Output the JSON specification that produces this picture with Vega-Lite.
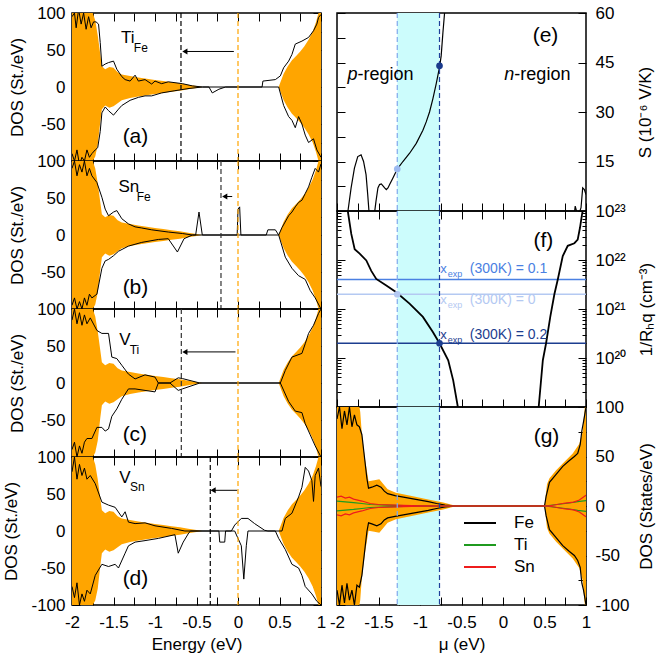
{
"$schema":"https://vega.github.io/schema/vega-lite/v6.json",
"background":"white",
"padding":{"left":2,"top":3,"right":5,"bottom":5},
"config":{
 "view":{"stroke":"black","strokeWidth":1.5},
 "axis":{"grid":false,"domain":false,"tickColor":"black","tickWidth":1,"labelFont":"Liberation Sans","labelFontSize":17,"labelColor":"black","labelFlush":false,"labelOverlap":false,"titleFont":"Liberation Sans","titleFontSize":17,"titleFontWeight":"normal","titleColor":"black","zindex":1},
 "text":{"font":"Liberation Sans","color":"black"}
},
"datasets":{
 "host":[{"e":-2,"u":112,"d":-112},{"e":-1.9,"u":104,"d":-108},{"e":-1.8,"u":110,"d":-104},{"e":-1.75,"u":100,"d":-100},{"e":-1.72,"u":90,"d":-94},{"e":-1.69,"u":70,"d":-78},{"e":-1.66,"u":45,"d":-48},{"e":-1.64,"u":28,"d":-30},{"e":-1.6,"u":24,"d":-25},{"e":-1.55,"u":27,"d":-28},{"e":-1.5,"u":26,"d":-26},{"e":-1.45,"u":20,"d":-22},{"e":-1.4,"u":17,"d":-18},{"e":-1.3,"u":15,"d":-15},{"e":-1.2,"u":13,"d":-13},{"e":-1.1,"u":11,"d":-11},{"e":-1,"u":9.5,"d":-9.5},{"e":-0.9,"u":8,"d":-8},{"e":-0.8,"u":6.5,"d":-6.5},{"e":-0.7,"u":5,"d":-5},{"e":-0.6,"u":3,"d":-3},{"e":-0.5,"u":1.5,"d":-1.5},{"e":-0.43,"u":0,"d":0},{"e":0.49,"u":0,"d":0},{"e":0.51,"u":6,"d":-6},{"e":0.55,"u":18,"d":-18},{"e":0.6,"u":28,"d":-28},{"e":0.65,"u":36,"d":-36},{"e":0.7,"u":42,"d":-42},{"e":0.75,"u":48,"d":-48},{"e":0.8,"u":55,"d":-55},{"e":0.85,"u":64,"d":-64},{"e":0.9,"u":75,"d":-75},{"e":0.94,"u":88,"d":-88},{"e":0.97,"u":100,"d":-100},{"e":1,"u":112,"d":-112}],
 "da":[{"s":"u","e":-2,"v":95},{"s":"u","e":-1.97,"v":100},{"s":"u","e":-1.95,"v":80},{"s":"u","e":-1.92,"v":105},{"s":"u","e":-1.89,"v":85},{"s":"u","e":-1.86,"v":100},{"s":"u","e":-1.83,"v":78},{"s":"u","e":-1.8,"v":95},{"s":"u","e":-1.77,"v":80},{"s":"u","e":-1.74,"v":88},{"s":"u","e":-1.71,"v":88},{"s":"u","e":-1.68,"v":85},{"s":"u","e":-1.66,"v":60},{"s":"u","e":-1.64,"v":28},{"s":"u","e":-1.6,"v":31},{"s":"u","e":-1.56,"v":33},{"s":"u","e":-1.5,"v":35},{"s":"u","e":-1.46,"v":24},{"s":"u","e":-1.4,"v":14},{"s":"u","e":-1.36,"v":10},{"s":"u","e":-1.3,"v":8},{"s":"u","e":-1.24,"v":16},{"s":"u","e":-1.2,"v":8},{"s":"u","e":-1.12,"v":10},{"s":"u","e":-1.04,"v":4},{"s":"u","e":-1,"v":8},{"s":"u","e":-0.92,"v":4.5},{"s":"u","e":-0.84,"v":7},{"s":"u","e":-0.67,"v":4.5},{"s":"u","e":-0.55,"v":1.5},{"s":"u","e":-0.43,"v":0},{"s":"u","e":0.29,"v":0},{"s":"u","e":0.3,"v":8},{"s":"u","e":0.45,"v":10},{"s":"u","e":0.51,"v":15},{"s":"u","e":0.55,"v":26},{"s":"u","e":0.61,"v":35},{"s":"u","e":0.65,"v":44},{"s":"u","e":0.69,"v":58},{"s":"u","e":0.77,"v":62},{"s":"u","e":0.85,"v":67},{"s":"u","e":0.91,"v":76},{"s":"u","e":0.95,"v":85},{"s":"u","e":0.97,"v":94},{"s":"u","e":1,"v":98},
  {"s":"d","e":-2,"v":-90},{"s":"d","e":-1.97,"v":-100},{"s":"d","e":-1.94,"v":-85},{"s":"d","e":-1.91,"v":-105},{"s":"d","e":-1.88,"v":-95},{"s":"d","e":-1.85,"v":-100},{"s":"d","e":-1.82,"v":-85},{"s":"d","e":-1.79,"v":-95},{"s":"d","e":-1.76,"v":-90},{"s":"d","e":-1.72,"v":-85},{"s":"d","e":-1.69,"v":-82},{"s":"d","e":-1.66,"v":-60},{"s":"d","e":-1.64,"v":-35},{"s":"d","e":-1.6,"v":-27},{"s":"d","e":-1.56,"v":-32},{"s":"d","e":-1.5,"v":-38},{"s":"d","e":-1.44,"v":-30},{"s":"d","e":-1.4,"v":-25},{"s":"d","e":-1.3,"v":-18},{"s":"d","e":-1.2,"v":-14},{"s":"d","e":-1.12,"v":-12},{"s":"d","e":-1.04,"v":-12},{"s":"d","e":-0.92,"v":-8},{"s":"d","e":-0.76,"v":-5},{"s":"d","e":-0.59,"v":-2},{"s":"d","e":-0.43,"v":0},{"s":"d","e":-0.35,"v":0},{"s":"d","e":-0.31,"v":-8},{"s":"d","e":-0.23,"v":-3},{"s":"d","e":-0.15,"v":0},{"s":"d","e":0.49,"v":0},{"s":"d","e":0.55,"v":-25},{"s":"d","e":0.61,"v":-40},{"s":"d","e":0.65,"v":-45},{"s":"d","e":0.69,"v":-55},{"s":"d","e":0.73,"v":-40},{"s":"d","e":0.77,"v":-50},{"s":"d","e":0.81,"v":-65},{"s":"d","e":0.85,"v":-75},{"s":"d","e":0.91,"v":-70},{"s":"d","e":0.95,"v":-85},{"s":"d","e":1,"v":-95}],
 "db":[{"s":"u","e":-2,"v":90},{"s":"u","e":-1.97,"v":100},{"s":"u","e":-1.94,"v":80},{"s":"u","e":-1.91,"v":95},{"s":"u","e":-1.88,"v":85},{"s":"u","e":-1.85,"v":100},{"s":"u","e":-1.82,"v":80},{"s":"u","e":-1.79,"v":90},{"s":"u","e":-1.76,"v":80},{"s":"u","e":-1.7,"v":71},{"s":"u","e":-1.64,"v":51},{"s":"u","e":-1.6,"v":35},{"s":"u","e":-1.56,"v":26},{"s":"u","e":-1.5,"v":31},{"s":"u","e":-1.46,"v":33},{"s":"u","e":-1.4,"v":22},{"s":"u","e":-1.32,"v":15},{"s":"u","e":-1.24,"v":11},{"s":"u","e":-1.16,"v":9.5},{"s":"u","e":-1.04,"v":7},{"s":"u","e":-0.84,"v":4},{"s":"u","e":-0.67,"v":2},{"s":"u","e":-0.55,"v":0},{"s":"u","e":-0.51,"v":0},{"s":"u","e":-0.47,"v":31},{"s":"u","e":-0.43,"v":0},{"s":"u","e":-0.01,"v":0},{"s":"u","e":0,"v":35},{"s":"u","e":0.02,"v":38},{"s":"u","e":0.035,"v":0},{"s":"u","e":0.34,"v":0},{"s":"u","e":0.36,"v":7},{"s":"u","e":0.45,"v":7},{"s":"u","e":0.49,"v":0},{"s":"u","e":0.53,"v":10},{"s":"u","e":0.61,"v":26},{"s":"u","e":0.65,"v":31},{"s":"u","e":0.69,"v":38},{"s":"u","e":0.73,"v":44},{"s":"u","e":0.77,"v":47},{"s":"u","e":0.81,"v":56},{"s":"u","e":0.85,"v":65},{"s":"u","e":0.89,"v":78},{"s":"u","e":0.93,"v":90},{"s":"u","e":0.97,"v":85},{"s":"u","e":1,"v":96},
  {"s":"d","e":-2,"v":-95},{"s":"d","e":-1.97,"v":-85},{"s":"d","e":-1.94,"v":-100},{"s":"d","e":-1.91,"v":-90},{"s":"d","e":-1.88,"v":-100},{"s":"d","e":-1.85,"v":-85},{"s":"d","e":-1.82,"v":-95},{"s":"d","e":-1.79,"v":-80},{"s":"d","e":-1.76,"v":-85},{"s":"d","e":-1.7,"v":-80},{"s":"d","e":-1.64,"v":-45},{"s":"d","e":-1.6,"v":-35},{"s":"d","e":-1.56,"v":-33},{"s":"d","e":-1.5,"v":-28},{"s":"d","e":-1.44,"v":-22},{"s":"d","e":-1.32,"v":-15},{"s":"d","e":-1.16,"v":-10},{"s":"d","e":-0.96,"v":-6},{"s":"d","e":-0.84,"v":-5},{"s":"d","e":-0.73,"v":-23},{"s":"d","e":-0.65,"v":-5},{"s":"d","e":-0.59,"v":-2},{"s":"d","e":-0.55,"v":0},{"s":"d","e":0.49,"v":0},{"s":"d","e":0.57,"v":-30},{"s":"d","e":0.65,"v":-45},{"s":"d","e":0.73,"v":-55},{"s":"d","e":0.81,"v":-60},{"s":"d","e":0.87,"v":-75},{"s":"d","e":0.93,"v":-85},{"s":"d","e":1,"v":-100}],
 "dc":[{"s":"u","e":-2,"v":85},{"s":"u","e":-1.97,"v":100},{"s":"u","e":-1.94,"v":80},{"s":"u","e":-1.91,"v":95},{"s":"u","e":-1.88,"v":78},{"s":"u","e":-1.85,"v":92},{"s":"u","e":-1.82,"v":80},{"s":"u","e":-1.78,"v":88},{"s":"u","e":-1.7,"v":71},{"s":"u","e":-1.64,"v":67},{"s":"u","e":-1.56,"v":67},{"s":"u","e":-1.52,"v":35},{"s":"u","e":-1.46,"v":33},{"s":"u","e":-1.4,"v":24},{"s":"u","e":-1.32,"v":12},{"s":"u","e":-1.24,"v":5.5},{"s":"u","e":-1.12,"v":11},{"s":"u","e":-1,"v":8},{"s":"u","e":-0.96,"v":0},{"s":"u","e":-0.82,"v":0},{"s":"u","e":-0.72,"v":7},{"s":"u","e":-0.67,"v":6},{"s":"u","e":-0.46,"v":0},{"s":"u","e":0.51,"v":0},{"s":"u","e":0.57,"v":17},{"s":"u","e":0.65,"v":35},{"s":"u","e":0.77,"v":40},{"s":"u","e":0.81,"v":53},{"s":"u","e":0.85,"v":67},{"s":"u","e":0.91,"v":78},{"s":"u","e":0.97,"v":94},{"s":"u","e":1,"v":100},
  {"s":"d","e":-2,"v":-90},{"s":"d","e":-1.97,"v":-80},{"s":"d","e":-1.94,"v":-100},{"s":"d","e":-1.91,"v":-85},{"s":"d","e":-1.88,"v":-95},{"s":"d","e":-1.85,"v":-80},{"s":"d","e":-1.82,"v":-75},{"s":"d","e":-1.76,"v":-75},{"s":"d","e":-1.7,"v":-60},{"s":"d","e":-1.64,"v":-60},{"s":"d","e":-1.6,"v":-65},{"s":"d","e":-1.56,"v":-62},{"s":"d","e":-1.52,"v":-45},{"s":"d","e":-1.46,"v":-35},{"s":"d","e":-1.4,"v":-22},{"s":"d","e":-1.32,"v":-8},{"s":"d","e":-1.24,"v":-8},{"s":"d","e":-1.12,"v":-10},{"s":"d","e":-1,"v":-12},{"s":"d","e":-0.96,"v":0},{"s":"d","e":-0.82,"v":0},{"s":"d","e":-0.72,"v":-10},{"s":"d","e":-0.67,"v":-8},{"s":"d","e":-0.46,"v":0},{"s":"d","e":0.51,"v":0},{"s":"d","e":0.61,"v":-25},{"s":"d","e":0.69,"v":-38},{"s":"d","e":0.77,"v":-40},{"s":"d","e":0.81,"v":-55},{"s":"d","e":0.87,"v":-70},{"s":"d","e":0.93,"v":-85},{"s":"d","e":1,"v":-100}],
 "dd":[{"s":"u","e":-2,"v":80},{"s":"u","e":-1.97,"v":100},{"s":"u","e":-1.94,"v":70},{"s":"u","e":-1.91,"v":90},{"s":"u","e":-1.88,"v":75},{"s":"u","e":-1.85,"v":85},{"s":"u","e":-1.82,"v":70},{"s":"u","e":-1.78,"v":75},{"s":"u","e":-1.72,"v":64},{"s":"u","e":-1.64,"v":39},{"s":"u","e":-1.56,"v":35},{"s":"u","e":-1.48,"v":32},{"s":"u","e":-1.4,"v":19},{"s":"u","e":-1.36,"v":26},{"s":"u","e":-1.32,"v":12},{"s":"u","e":-1.24,"v":10},{"s":"u","e":-1.12,"v":11},{"s":"u","e":-1,"v":7},{"s":"u","e":-0.8,"v":3.5},{"s":"u","e":-0.64,"v":0},{"s":"u","e":-0.08,"v":0},{"s":"u","e":-0.04,"v":8},{"s":"u","e":0.04,"v":17},{"s":"u","e":0.12,"v":17},{"s":"u","e":0.2,"v":10},{"s":"u","e":0.32,"v":1},{"s":"u","e":0.36,"v":0},{"s":"u","e":0.53,"v":0},{"s":"u","e":0.57,"v":17},{"s":"u","e":0.65,"v":24},{"s":"u","e":0.73,"v":46},{"s":"u","e":0.77,"v":59},{"s":"u","e":0.81,"v":86},{"s":"u","e":0.85,"v":81},{"s":"u","e":0.89,"v":68},{"s":"u","e":0.91,"v":40},{"s":"u","e":0.93,"v":75},{"s":"u","e":0.97,"v":85},{"s":"u","e":1,"v":60},
  {"s":"d","e":-2,"v":-75},{"s":"d","e":-1.97,"v":-90},{"s":"d","e":-1.94,"v":-70},{"s":"d","e":-1.91,"v":-100},{"s":"d","e":-1.88,"v":-85},{"s":"d","e":-1.85,"v":-95},{"s":"d","e":-1.82,"v":-80},{"s":"d","e":-1.78,"v":-85},{"s":"d","e":-1.72,"v":-60},{"s":"d","e":-1.64,"v":-45},{"s":"d","e":-1.56,"v":-48},{"s":"d","e":-1.48,"v":-45},{"s":"d","e":-1.44,"v":-50},{"s":"d","e":-1.36,"v":-30},{"s":"d","e":-1.32,"v":-20},{"s":"d","e":-1.24,"v":-15},{"s":"d","e":-1.12,"v":-13},{"s":"d","e":-0.96,"v":-10},{"s":"d","e":-0.76,"v":-5},{"s":"d","e":-0.72,"v":-30},{"s":"d","e":-0.66,"v":-15},{"s":"d","e":-0.59,"v":-2},{"s":"d","e":-0.57,"v":0},{"s":"d","e":-0.23,"v":0},{"s":"d","e":-0.22,"v":-15},{"s":"d","e":-0.16,"v":-15},{"s":"d","e":-0.15,"v":0},{"s":"d","e":-0.04,"v":0},{"s":"d","e":0.04,"v":-20},{"s":"d","e":0.07,"v":-65},{"s":"d","e":0.1,"v":-20},{"s":"d","e":0.12,"v":0},{"s":"d","e":0.45,"v":0},{"s":"d","e":0.49,"v":-10},{"s":"d","e":0.57,"v":-25},{"s":"d","e":0.65,"v":-45},{"s":"d","e":0.73,"v":-50},{"s":"d","e":0.77,"v":-60},{"s":"d","e":0.81,"v":-75},{"s":"d","e":0.89,"v":-85},{"s":"d","e":0.95,"v":-95},{"s":"d","e":1,"v":-100}],
 "lev":[{"p":"a","ef":0,"lv":-0.687},{"p":"b","ef":0,"lv":-0.205},{"p":"c","ef":0,"lv":-0.683},{"p":"d","ef":0,"lv":-0.334}],
 "arr":[{"p":"a","x1":-0.05,"x2":-0.64,"y":48},{"p":"b","x1":-0.07,"x2":-0.16,"y":52},{"p":"c","x1":-0.03,"x2":-0.64,"y":42},{"p":"d","x1":-0.01,"x2":-0.3,"y":55}],
 "lab":[{"p":"a","k":"m","x":-1.41,"y":66,"t":"Ti"},{"p":"a","k":"s","x":-1.255,"y":53,"t":"Fe"},{"p":"a","k":"p","x":-1.39,"y":-68,"t":"(a)"},
  {"p":"b","k":"m","x":-1.44,"y":65,"t":"Sn"},{"p":"b","k":"s","x":-1.22,"y":51,"t":"Fe"},{"p":"b","k":"p","x":-1.39,"y":-72,"t":"(b)"},
  {"p":"c","k":"m","x":-1.43,"y":58,"t":"V"},{"p":"c","k":"s","x":-1.305,"y":44,"t":"Ti"},{"p":"c","k":"p","x":-1.39,"y":-70,"t":"(c)"},
  {"p":"d","k":"m","x":-1.43,"y":72,"t":"V"},{"p":"d","k":"s","x":-1.3,"y":59,"t":"Sn"},{"p":"d","k":"p","x":-1.39,"y":-65,"t":"(d)"}],
 "band":[{"lo":-1.274,"hi":-0.765}],
 "seeb":[{"seg":1,"mu":-1.89,"s":-3},{"seg":1,"mu":-1.868,"s":0},{"seg":1,"mu":-1.83,"s":7},{"seg":1,"mu":-1.79,"s":13},{"seg":1,"mu":-1.75,"s":16.5},{"seg":1,"mu":-1.71,"s":17},{"seg":1,"mu":-1.68,"s":15},{"seg":1,"mu":-1.65,"s":11},{"seg":1,"mu":-1.63,"s":5},{"seg":1,"mu":-1.615,"s":0},{"seg":1,"mu":-1.6,"s":-4},{"seg":1,"mu":-1.56,"s":-3},{"seg":1,"mu":-1.53,"s":3},{"seg":1,"mu":-1.507,"s":7},{"seg":1,"mu":-1.487,"s":8},{"seg":1,"mu":-1.466,"s":8.2},{"seg":1,"mu":-1.446,"s":7.6},{"seg":1,"mu":-1.426,"s":7},{"seg":1,"mu":-1.406,"s":6.5},{"seg":1,"mu":-1.386,"s":7},{"seg":1,"mu":-1.366,"s":8},{"seg":1,"mu":-1.326,"s":10},{"seg":1,"mu":-1.274,"s":12.7},{"seg":1,"mu":-1.206,"s":15},{"seg":1,"mu":-1.125,"s":17.5},{"seg":1,"mu":-1.045,"s":20.5},{"seg":1,"mu":-0.965,"s":24.5},{"seg":1,"mu":-0.925,"s":27},{"seg":1,"mu":-0.885,"s":30},{"seg":1,"mu":-0.845,"s":34},{"seg":1,"mu":-0.805,"s":38.5},{"seg":1,"mu":-0.785,"s":41},{"seg":1,"mu":-0.765,"s":43.5},{"seg":1,"mu":-0.745,"s":47},{"seg":1,"mu":-0.724,"s":54},{"seg":1,"mu":-0.704,"s":60},{"seg":1,"mu":-0.69,"s":65},
  {"seg":2,"mu":0.85,"s":-3},{"seg":2,"mu":0.87,"s":1.5},{"seg":2,"mu":0.885,"s":0},{"seg":2,"mu":0.9,"s":-2},{"seg":2,"mu":0.94,"s":1},{"seg":2,"mu":0.96,"s":7},{"seg":2,"mu":0.98,"s":6.5},{"seg":2,"mu":1,"s":5}],
 "mk":[{"m":"0","mu":-1.274,"s":12.7,"n":2e21},{"m":"0.2","mu":-0.765,"s":44,"n":2e20}],
 "hall":[{"side":"p","mu":-1.88,"n":1.3e23},{"side":"p","mu":-1.87,"n":1e23},{"side":"p","mu":-1.828,"n":3.4e22},{"side":"p","mu":-1.787,"n":1.66e22},{"side":"p","mu":-1.727,"n":1.35e22},{"side":"p","mu":-1.647,"n":9.8e21},{"side":"p","mu":-1.587,"n":6e21},{"side":"p","mu":-1.527,"n":4.1e21},{"side":"p","mu":-1.406,"n":3e21},{"side":"p","mu":-1.286,"n":2.2e21},{"side":"p","mu":-1.126,"n":1.29e21},{"side":"p","mu":-0.965,"n":6.9e20},{"side":"p","mu":-0.845,"n":3.4e20},{"side":"p","mu":-0.765,"n":2e20},{"side":"p","mu":-0.66,"n":9e19},{"side":"p","mu":-0.6,"n":3.5e19},{"side":"p","mu":-0.544,"n":1e19},{"side":"p","mu":-0.53,"n":8e18},
  {"side":"n","mu":0.42,"n":8e18},{"side":"n","mu":0.43,"n":1e19},{"side":"n","mu":0.48,"n":9e19},{"side":"n","mu":0.519,"n":2e20},{"side":"n","mu":0.57,"n":7e20},{"side":"n","mu":0.619,"n":2e21},{"side":"n","mu":0.66,"n":4e21},{"side":"n","mu":0.72,"n":1.2e22},{"side":"n","mu":0.78,"n":1.95e22},{"side":"n","mu":0.86,"n":2.2e22},{"side":"n","mu":0.9,"n":2.6e22},{"side":"n","mu":0.928,"n":4.6e22},{"side":"n","mu":0.952,"n":8.5e22},{"side":"n","mu":0.97,"n":1.2e23}],
 "xe":[{"k":"0.1","n":4e21,"ty":6.5e21,"xa":-0.755,"xb":-0.665,"xc":-0.4,"t":"(300K) = 0.1"},{"k":"0","n":2e21,"ty":1.5e21,"xa":-0.755,"xb":-0.665,"xc":-0.4,"t":"(300K) = 0"},{"k":"0.2","n":2e20,"ty":2.9e20,"xa":-0.755,"xb":-0.665,"xc":-0.4,"t":"(300K) = 0.2"}],
 "rt":[{"pn":"e","k":"it","x":-1.875,"y":41.3,"t":"p"},{"pn":"e","k":"reg","x":-1.752,"y":41.3,"t":"-region"},{"pn":"e","k":"it","x":0.015,"y":41.3,"t":"n"},{"pn":"e","k":"reg","x":0.137,"y":41.3,"t":"-region"},{"pn":"e","k":"pan","x":0.512,"y":53,"t":"(e)"},{"pn":"f","k":"pan","x":0.487,"y":2.4e22,"t":"(f)"},{"pn":"g","k":"pan","x":0.524,"y":70,"t":"(g)"}],
 "gor":[{"e":-2,"u":110,"d":-110},{"e":-1.75,"u":110,"d":-110},{"e":-1.72,"u":95,"d":-95},{"e":-1.7,"u":72,"d":-72},{"e":-1.66,"u":46,"d":-46},{"e":-1.62,"u":25,"d":-25},{"e":-1.55,"u":26,"d":-26},{"e":-1.49,"u":27,"d":-27},{"e":-1.43,"u":21,"d":-21},{"e":-1.39,"u":17,"d":-17},{"e":-1.29,"u":13.5,"d":-13.5},{"e":-1.1,"u":10,"d":-10},{"e":-0.9,"u":6.5,"d":-6.5},{"e":-0.72,"u":3.5,"d":-3.5},{"e":-0.56,"u":0,"d":0},{"e":0.5,"u":0,"d":0},{"e":0.53,"u":22,"d":-22},{"e":0.56,"u":28,"d":-28},{"e":0.64,"u":36,"d":-36},{"e":0.72,"u":43,"d":-43},{"e":0.84,"u":53,"d":-53},{"e":0.92,"u":63,"d":-63},{"e":0.96,"u":75,"d":-75},{"e":0.98,"u":95,"d":-95},{"e":1,"u":110,"d":-110}],
 "gel":[{"el":"Fe","s":"u","e":-2,"v":88},{"el":"Fe","s":"u","e":-1.97,"v":100},{"el":"Fe","s":"u","e":-1.94,"v":78},{"el":"Fe","s":"u","e":-1.91,"v":96},{"el":"Fe","s":"u","e":-1.88,"v":82},{"el":"Fe","s":"u","e":-1.85,"v":100},{"el":"Fe","s":"u","e":-1.82,"v":80},{"el":"Fe","s":"u","e":-1.79,"v":92},{"el":"Fe","s":"u","e":-1.76,"v":82},{"el":"Fe","s":"u","e":-1.73,"v":80},{"el":"Fe","s":"u","e":-1.7,"v":72},{"el":"Fe","s":"u","e":-1.67,"v":50},{"el":"Fe","s":"u","e":-1.64,"v":28},{"el":"Fe","s":"u","e":-1.62,"v":18},{"el":"Fe","s":"u","e":-1.58,"v":19},{"el":"Fe","s":"u","e":-1.52,"v":21},{"el":"Fe","s":"u","e":-1.47,"v":19},{"el":"Fe","s":"u","e":-1.43,"v":15},{"el":"Fe","s":"u","e":-1.39,"v":12.5},{"el":"Fe","s":"u","e":-1.3,"v":10.5},{"el":"Fe","s":"u","e":-1.2,"v":9},{"el":"Fe","s":"u","e":-1.1,"v":7.5},{"el":"Fe","s":"u","e":-1,"v":6},{"el":"Fe","s":"u","e":-0.9,"v":4.5},{"el":"Fe","s":"u","e":-0.8,"v":2.5},{"el":"Fe","s":"u","e":-0.7,"v":1},{"el":"Fe","s":"u","e":-0.56,"v":0},{"el":"Fe","s":"u","e":0.5,"v":0},{"el":"Fe","s":"u","e":0.52,"v":10},{"el":"Fe","s":"u","e":0.56,"v":24},{"el":"Fe","s":"u","e":0.64,"v":32},{"el":"Fe","s":"u","e":0.72,"v":40},{"el":"Fe","s":"u","e":0.8,"v":46},{"el":"Fe","s":"u","e":0.86,"v":50},{"el":"Fe","s":"u","e":0.9,"v":53},{"el":"Fe","s":"u","e":0.93,"v":62},{"el":"Fe","s":"u","e":0.95,"v":76},{"el":"Fe","s":"u","e":0.97,"v":85},{"el":"Fe","s":"u","e":1,"v":100},
  {"el":"Fe","s":"d","e":-2,"v":-85},{"el":"Fe","s":"d","e":-1.97,"v":-100},{"el":"Fe","s":"d","e":-1.94,"v":-80},{"el":"Fe","s":"d","e":-1.91,"v":-98},{"el":"Fe","s":"d","e":-1.88,"v":-78},{"el":"Fe","s":"d","e":-1.85,"v":-95},{"el":"Fe","s":"d","e":-1.82,"v":-85},{"el":"Fe","s":"d","e":-1.79,"v":-100},{"el":"Fe","s":"d","e":-1.76,"v":-80},{"el":"Fe","s":"d","e":-1.73,"v":-82},{"el":"Fe","s":"d","e":-1.7,"v":-70},{"el":"Fe","s":"d","e":-1.67,"v":-48},{"el":"Fe","s":"d","e":-1.64,"v":-26},{"el":"Fe","s":"d","e":-1.62,"v":-17},{"el":"Fe","s":"d","e":-1.58,"v":-18},{"el":"Fe","s":"d","e":-1.52,"v":-20},{"el":"Fe","s":"d","e":-1.47,"v":-18},{"el":"Fe","s":"d","e":-1.43,"v":-14},{"el":"Fe","s":"d","e":-1.39,"v":-12},{"el":"Fe","s":"d","e":-1.3,"v":-10.5},{"el":"Fe","s":"d","e":-1.2,"v":-9},{"el":"Fe","s":"d","e":-1.1,"v":-7.5},{"el":"Fe","s":"d","e":-1,"v":-6},{"el":"Fe","s":"d","e":-0.9,"v":-4.5},{"el":"Fe","s":"d","e":-0.8,"v":-2.5},{"el":"Fe","s":"d","e":-0.7,"v":-1},{"el":"Fe","s":"d","e":-0.56,"v":0},{"el":"Fe","s":"d","e":0.5,"v":0},{"el":"Fe","s":"d","e":0.52,"v":-10},{"el":"Fe","s":"d","e":0.56,"v":-24},{"el":"Fe","s":"d","e":0.64,"v":-32},{"el":"Fe","s":"d","e":0.72,"v":-40},{"el":"Fe","s":"d","e":0.8,"v":-46},{"el":"Fe","s":"d","e":0.86,"v":-50},{"el":"Fe","s":"d","e":0.9,"v":-55},{"el":"Fe","s":"d","e":0.93,"v":-62},{"el":"Fe","s":"d","e":0.95,"v":-78},{"el":"Fe","s":"d","e":0.97,"v":-85},{"el":"Fe","s":"d","e":1,"v":-100},
  {"el":"Ti","s":"u","e":-2,"v":5},{"el":"Ti","s":"u","e":-1.9,"v":4.2},{"el":"Ti","s":"u","e":-1.8,"v":3.5},{"el":"Ti","s":"u","e":-1.7,"v":2.5},{"el":"Ti","s":"u","e":-1.6,"v":1.5},{"el":"Ti","s":"u","e":-1.4,"v":0.8},{"el":"Ti","s":"u","e":-1.2,"v":0.4},{"el":"Ti","s":"u","e":-1,"v":0.1},{"el":"Ti","s":"u","e":-0.8,"v":0},{"el":"Ti","s":"u","e":0.5,"v":0},{"el":"Ti","s":"u","e":0.6,"v":1},{"el":"Ti","s":"u","e":0.7,"v":2},{"el":"Ti","s":"u","e":0.8,"v":3},{"el":"Ti","s":"u","e":0.9,"v":4.5},{"el":"Ti","s":"u","e":1,"v":5.5},
  {"el":"Ti","s":"d","e":-2,"v":-5},{"el":"Ti","s":"d","e":-1.9,"v":-4.2},{"el":"Ti","s":"d","e":-1.8,"v":-3.5},{"el":"Ti","s":"d","e":-1.7,"v":-2.5},{"el":"Ti","s":"d","e":-1.6,"v":-1.5},{"el":"Ti","s":"d","e":-1.4,"v":-0.8},{"el":"Ti","s":"d","e":-1.2,"v":-0.4},{"el":"Ti","s":"d","e":-1,"v":-0.1},{"el":"Ti","s":"d","e":-0.8,"v":0},{"el":"Ti","s":"d","e":0.5,"v":0},{"el":"Ti","s":"d","e":0.6,"v":-1},{"el":"Ti","s":"d","e":0.7,"v":-2},{"el":"Ti","s":"d","e":0.8,"v":-3},{"el":"Ti","s":"d","e":0.9,"v":-4.5},{"el":"Ti","s":"d","e":1,"v":-5.5},
  {"el":"Sn","s":"u","e":-2,"v":9},{"el":"Sn","s":"u","e":-1.95,"v":10},{"el":"Sn","s":"u","e":-1.9,"v":8},{"el":"Sn","s":"u","e":-1.85,"v":9},{"el":"Sn","s":"u","e":-1.8,"v":7},{"el":"Sn","s":"u","e":-1.7,"v":5},{"el":"Sn","s":"u","e":-1.6,"v":2.5},{"el":"Sn","s":"u","e":-1.5,"v":1.5},{"el":"Sn","s":"u","e":-1.3,"v":0.8},{"el":"Sn","s":"u","e":-1,"v":0.2},{"el":"Sn","s":"u","e":-0.8,"v":0},{"el":"Sn","s":"u","e":0.55,"v":0},{"el":"Sn","s":"u","e":0.65,"v":1.5},{"el":"Sn","s":"u","e":0.75,"v":3},{"el":"Sn","s":"u","e":0.85,"v":4},{"el":"Sn","s":"u","e":0.92,"v":6},{"el":"Sn","s":"u","e":0.97,"v":9},{"el":"Sn","s":"u","e":1,"v":11},
  {"el":"Sn","s":"d","e":-2,"v":-9},{"el":"Sn","s":"d","e":-1.95,"v":-10},{"el":"Sn","s":"d","e":-1.9,"v":-8},{"el":"Sn","s":"d","e":-1.85,"v":-9},{"el":"Sn","s":"d","e":-1.8,"v":-7},{"el":"Sn","s":"d","e":-1.7,"v":-5},{"el":"Sn","s":"d","e":-1.6,"v":-2.5},{"el":"Sn","s":"d","e":-1.5,"v":-1.5},{"el":"Sn","s":"d","e":-1.3,"v":-0.8},{"el":"Sn","s":"d","e":-1,"v":-0.2},{"el":"Sn","s":"d","e":-0.8,"v":0},{"el":"Sn","s":"d","e":0.55,"v":0},{"el":"Sn","s":"d","e":0.65,"v":-1.5},{"el":"Sn","s":"d","e":0.75,"v":-3},{"el":"Sn","s":"d","e":0.85,"v":-4},{"el":"Sn","s":"d","e":0.92,"v":-6},{"el":"Sn","s":"d","e":0.97,"v":-9},{"el":"Sn","s":"d","e":1,"v":-11}]
},
"hconcat":[
{"vconcat":[
 {"width":249,"height":148,"layer":[
  {"data":{"name":"host"},"mark":{"type":"area","color":"#ffa500","clip":true},"encoding":{"x":{"field":"e","type":"quantitative","scale":{"domain":[-2,1],"nice":false,"zero":false},"axis":{"orient":"bottom","values":[-2,-1.75,-1.5,-1.25,-1,-0.75,-0.5,-0.25,0,0.25,0.5,0.75,1],"labels":false,"tickSize":-8,"title":null}},"y":{"field":"u","type":"quantitative","scale":{"domain":[-100,100],"nice":false,"zero":false},"axis":{"orient":"left","values":[100,50,0,-50],"ticks":false,"labelPadding":7,"labelExpr":"''+datum.value","title":"DOS (St./eV)","titlePadding":10}},"y2":{"field":"d"}}},
  {"data":{"name":"da"},"mark":{"type":"line","color":"black","strokeWidth":1,"clip":true},"encoding":{"x":{"field":"e","type":"quantitative","axis":{"orient":"top","values":[-2,-1.75,-1.5,-1.25,-1,-0.75,-0.5,-0.25,0,0.25,0.5,0.75,1],"labels":false,"tickSize":-8,"title":null}},"y":{"field":"v","type":"quantitative","axis":{"orient":"right","values":[-100,-75,-50,-25,0,25,50,75,100],"labels":false,"tickSize":-8,"title":null}},"detail":{"field":"s"}}},
  {"data":{"name":"lev"},"transform":[{"filter":"datum.p==='a'"}],"mark":{"type":"rule","color":"#ffa500","strokeDash":[5,3],"strokeWidth":1.2},"encoding":{"x":{"field":"ef","type":"quantitative","axis":null}}},
  {"data":{"name":"lev"},"transform":[{"filter":"datum.p==='a'"}],"mark":{"type":"rule","color":"black","strokeDash":[5,3],"strokeWidth":1.2},"encoding":{"x":{"field":"lv","type":"quantitative","axis":null}}},
  {"data":{"name":"arr"},"transform":[{"filter":"datum.p==='a'"}],"mark":{"type":"rule","color":"black","strokeWidth":1},"encoding":{"x":{"field":"x1","type":"quantitative","axis":null},"x2":{"field":"x2"},"y":{"field":"y","type":"quantitative","axis":{"orient":"left","values":[-100,-75,-50,-25,0,25,50,75,100],"labels":false,"tickSize":-8,"title":null}}}},
  {"data":{"name":"arr"},"transform":[{"filter":"datum.p==='a'"}],"mark":{"type":"point","shape":"triangle-left","filled":true,"color":"black","size":35,"opacity":1},"encoding":{"x":{"field":"x2","type":"quantitative","axis":null},"y":{"field":"y","type":"quantitative","axis":null}}},
  {"data":{"name":"lab"},"transform":[{"filter":"datum.p==='a' && datum.k==='m'"}],"mark":{"type":"text","align":"left","baseline":"middle","fontSize":17},"encoding":{"x":{"field":"x","type":"quantitative","axis":null},"y":{"field":"y","type":"quantitative","axis":null},"text":{"field":"t"}}},
  {"data":{"name":"lab"},"transform":[{"filter":"datum.p==='a' && datum.k==='s'"}],"mark":{"type":"text","align":"left","baseline":"middle","fontSize":12},"encoding":{"x":{"field":"x","type":"quantitative","axis":null},"y":{"field":"y","type":"quantitative","axis":null},"text":{"field":"t"}}},
  {"data":{"name":"lab"},"transform":[{"filter":"datum.p==='a' && datum.k==='p'"}],"mark":{"type":"text","align":"left","baseline":"middle","fontSize":21},"encoding":{"x":{"field":"x","type":"quantitative","axis":null},"y":{"field":"y","type":"quantitative","axis":null},"text":{"field":"t"}}}
 ],"resolve":{"axis":{"x":"independent","y":"independent"}}},
 {"width":249,"height":148,"layer":[
  {"data":{"name":"host"},"mark":{"type":"area","color":"#ffa500","clip":true},"encoding":{"x":{"field":"e","type":"quantitative","scale":{"domain":[-2,1],"nice":false,"zero":false},"axis":{"orient":"bottom","values":[-2,-1.75,-1.5,-1.25,-1,-0.75,-0.5,-0.25,0,0.25,0.5,0.75,1],"labels":false,"tickSize":-8,"title":null}},"y":{"field":"u","type":"quantitative","scale":{"domain":[-100,100],"nice":false,"zero":false},"axis":{"orient":"left","values":[100,50,0,-50],"ticks":false,"labelPadding":7,"labelExpr":"''+datum.value","title":"DOS (St./eV)","titlePadding":10}},"y2":{"field":"d"}}},
  {"data":{"name":"db"},"mark":{"type":"line","color":"black","strokeWidth":1,"clip":true},"encoding":{"x":{"field":"e","type":"quantitative","axis":{"orient":"top","values":[-2,-1.75,-1.5,-1.25,-1,-0.75,-0.5,-0.25,0,0.25,0.5,0.75,1],"labels":false,"tickSize":-8,"title":null}},"y":{"field":"v","type":"quantitative","axis":{"orient":"right","values":[-100,-75,-50,-25,0,25,50,75,100],"labels":false,"tickSize":-8,"title":null}},"detail":{"field":"s"}}},
  {"data":{"name":"lev"},"transform":[{"filter":"datum.p==='b'"}],"mark":{"type":"rule","color":"#ffa500","strokeDash":[5,3],"strokeWidth":1.2},"encoding":{"x":{"field":"ef","type":"quantitative","axis":null}}},
  {"data":{"name":"lev"},"transform":[{"filter":"datum.p==='b'"}],"mark":{"type":"rule","color":"#333333","strokeDash":[5,3],"strokeWidth":1.2},"encoding":{"x":{"field":"lv","type":"quantitative","axis":null}}},
  {"data":{"name":"arr"},"transform":[{"filter":"datum.p==='b'"}],"mark":{"type":"rule","color":"black","strokeWidth":1},"encoding":{"x":{"field":"x1","type":"quantitative","axis":null},"x2":{"field":"x2"},"y":{"field":"y","type":"quantitative","axis":{"orient":"left","values":[-100,-75,-50,-25,0,25,50,75,100],"labels":false,"tickSize":-8,"title":null}}}},
  {"data":{"name":"arr"},"transform":[{"filter":"datum.p==='b'"}],"mark":{"type":"point","shape":"triangle-left","filled":true,"color":"black","size":35,"opacity":1},"encoding":{"x":{"field":"x2","type":"quantitative","axis":null},"y":{"field":"y","type":"quantitative","axis":null}}},
  {"data":{"name":"lab"},"transform":[{"filter":"datum.p==='b' && datum.k==='m'"}],"mark":{"type":"text","align":"left","baseline":"middle","fontSize":17},"encoding":{"x":{"field":"x","type":"quantitative","axis":null},"y":{"field":"y","type":"quantitative","axis":null},"text":{"field":"t"}}},
  {"data":{"name":"lab"},"transform":[{"filter":"datum.p==='b' && datum.k==='s'"}],"mark":{"type":"text","align":"left","baseline":"middle","fontSize":12},"encoding":{"x":{"field":"x","type":"quantitative","axis":null},"y":{"field":"y","type":"quantitative","axis":null},"text":{"field":"t"}}},
  {"data":{"name":"lab"},"transform":[{"filter":"datum.p==='b' && datum.k==='p'"}],"mark":{"type":"text","align":"left","baseline":"middle","fontSize":21},"encoding":{"x":{"field":"x","type":"quantitative","axis":null},"y":{"field":"y","type":"quantitative","axis":null},"text":{"field":"t"}}}
 ],"resolve":{"axis":{"x":"independent","y":"independent"}}},
 {"width":249,"height":148,"layer":[
  {"data":{"name":"host"},"mark":{"type":"area","color":"#ffa500","clip":true},"encoding":{"x":{"field":"e","type":"quantitative","scale":{"domain":[-2,1],"nice":false,"zero":false},"axis":{"orient":"bottom","values":[-2,-1.75,-1.5,-1.25,-1,-0.75,-0.5,-0.25,0,0.25,0.5,0.75,1],"labels":false,"tickSize":-8,"title":null}},"y":{"field":"u","type":"quantitative","scale":{"domain":[-100,100],"nice":false,"zero":false},"axis":{"orient":"left","values":[100,50,0,-50],"ticks":false,"labelPadding":7,"labelExpr":"''+datum.value","title":"DOS (St./eV)","titlePadding":10}},"y2":{"field":"d"}}},
  {"data":{"name":"dc"},"mark":{"type":"line","color":"black","strokeWidth":1,"clip":true},"encoding":{"x":{"field":"e","type":"quantitative","axis":{"orient":"top","values":[-2,-1.75,-1.5,-1.25,-1,-0.75,-0.5,-0.25,0,0.25,0.5,0.75,1],"labels":false,"tickSize":-8,"title":null}},"y":{"field":"v","type":"quantitative","axis":{"orient":"right","values":[-100,-75,-50,-25,0,25,50,75,100],"labels":false,"tickSize":-8,"title":null}},"detail":{"field":"s"}}},
  {"data":{"name":"lev"},"transform":[{"filter":"datum.p==='c'"}],"mark":{"type":"rule","color":"#ffa500","strokeDash":[5,3],"strokeWidth":1.2},"encoding":{"x":{"field":"ef","type":"quantitative","axis":null}}},
  {"data":{"name":"lev"},"transform":[{"filter":"datum.p==='c'"}],"mark":{"type":"rule","color":"#333333","strokeDash":[5,3],"strokeWidth":1.2},"encoding":{"x":{"field":"lv","type":"quantitative","axis":null}}},
  {"data":{"name":"arr"},"transform":[{"filter":"datum.p==='c'"}],"mark":{"type":"rule","color":"black","strokeWidth":1},"encoding":{"x":{"field":"x1","type":"quantitative","axis":null},"x2":{"field":"x2"},"y":{"field":"y","type":"quantitative","axis":{"orient":"left","values":[-100,-75,-50,-25,0,25,50,75,100],"labels":false,"tickSize":-8,"title":null}}}},
  {"data":{"name":"arr"},"transform":[{"filter":"datum.p==='c'"}],"mark":{"type":"point","shape":"triangle-left","filled":true,"color":"black","size":35,"opacity":1},"encoding":{"x":{"field":"x2","type":"quantitative","axis":null},"y":{"field":"y","type":"quantitative","axis":null}}},
  {"data":{"name":"lab"},"transform":[{"filter":"datum.p==='c' && datum.k==='m'"}],"mark":{"type":"text","align":"left","baseline":"middle","fontSize":17},"encoding":{"x":{"field":"x","type":"quantitative","axis":null},"y":{"field":"y","type":"quantitative","axis":null},"text":{"field":"t"}}},
  {"data":{"name":"lab"},"transform":[{"filter":"datum.p==='c' && datum.k==='s'"}],"mark":{"type":"text","align":"left","baseline":"middle","fontSize":12},"encoding":{"x":{"field":"x","type":"quantitative","axis":null},"y":{"field":"y","type":"quantitative","axis":null},"text":{"field":"t"}}},
  {"data":{"name":"lab"},"transform":[{"filter":"datum.p==='c' && datum.k==='p'"}],"mark":{"type":"text","align":"left","baseline":"middle","fontSize":21},"encoding":{"x":{"field":"x","type":"quantitative","axis":null},"y":{"field":"y","type":"quantitative","axis":null},"text":{"field":"t"}}}
 ],"resolve":{"axis":{"x":"independent","y":"independent"}}},
 {"width":249,"height":148,"layer":[
  {"data":{"name":"host"},"mark":{"type":"area","color":"#ffa500","clip":true},"encoding":{"x":{"field":"e","type":"quantitative","scale":{"domain":[-2,1],"nice":false,"zero":false},"axis":{"orient":"bottom","values":[-2,-1.75,-1.5,-1.25,-1,-0.75,-0.5,-0.25,0,0.25,0.5,0.75,1],"labels":false,"tickSize":-8,"title":null}},"y":{"field":"u","type":"quantitative","scale":{"domain":[-100,100],"nice":false,"zero":false},"axis":{"orient":"left","values":[100,50,0,-50,-100],"ticks":false,"labelPadding":7,"labelExpr":"''+datum.value","title":"DOS (St./eV)","titlePadding":10}},"y2":{"field":"d"}}},
  {"data":{"name":"dd"},"mark":{"type":"line","color":"black","strokeWidth":1,"clip":true},"encoding":{"x":{"field":"e","type":"quantitative","axis":{"orient":"top","values":[-2,-1.75,-1.5,-1.25,-1,-0.75,-0.5,-0.25,0,0.25,0.5,0.75,1],"labels":false,"tickSize":-8,"title":null}},"y":{"field":"v","type":"quantitative","axis":{"orient":"right","values":[-100,-75,-50,-25,0,25,50,75,100],"labels":false,"tickSize":-8,"title":null}},"detail":{"field":"s"}}},
  {"data":{"name":"lev"},"transform":[{"filter":"datum.p==='d'"}],"mark":{"type":"rule","color":"#ffa500","strokeDash":[5,3],"strokeWidth":1.2},"encoding":{"x":{"field":"ef","type":"quantitative","axis":null}}},
  {"data":{"name":"lev"},"transform":[{"filter":"datum.p==='d'"}],"mark":{"type":"rule","color":"black","strokeDash":[5,3],"strokeWidth":1.2},"encoding":{"x":{"field":"lv","type":"quantitative","axis":null}}},
  {"data":{"name":"arr"},"transform":[{"filter":"datum.p==='d'"}],"mark":{"type":"rule","color":"black","strokeWidth":1},"encoding":{"x":{"field":"x1","type":"quantitative","axis":{"orient":"bottom","values":[-2,-1.5,-1,-0.5,0,0.5,1],"ticks":false,"labelPadding":9,"labelExpr":"''+datum.value","title":"Energy (eV)","titlePadding":6}},"x2":{"field":"x2"},"y":{"field":"y","type":"quantitative","axis":{"orient":"left","values":[-100,-75,-50,-25,0,25,50,75,100],"labels":false,"tickSize":-8,"title":null}}}},
  {"data":{"name":"arr"},"transform":[{"filter":"datum.p==='d'"}],"mark":{"type":"point","shape":"triangle-left","filled":true,"color":"black","size":35,"opacity":1},"encoding":{"x":{"field":"x2","type":"quantitative","axis":null},"y":{"field":"y","type":"quantitative","axis":null}}},
  {"data":{"name":"lab"},"transform":[{"filter":"datum.p==='d' && datum.k==='m'"}],"mark":{"type":"text","align":"left","baseline":"middle","fontSize":17},"encoding":{"x":{"field":"x","type":"quantitative","axis":null},"y":{"field":"y","type":"quantitative","axis":null},"text":{"field":"t"}}},
  {"data":{"name":"lab"},"transform":[{"filter":"datum.p==='d' && datum.k==='s'"}],"mark":{"type":"text","align":"left","baseline":"middle","fontSize":12},"encoding":{"x":{"field":"x","type":"quantitative","axis":null},"y":{"field":"y","type":"quantitative","axis":null},"text":{"field":"t"}}},
  {"data":{"name":"lab"},"transform":[{"filter":"datum.p==='d' && datum.k==='p'"}],"mark":{"type":"text","align":"left","baseline":"middle","fontSize":21},"encoding":{"x":{"field":"x","type":"quantitative","axis":null},"y":{"field":"y","type":"quantitative","axis":null},"text":{"field":"t"}}}
 ],"resolve":{"axis":{"x":"independent","y":"independent"}}}
],"spacing":0,"bounds":"flush"},
{"vconcat":[
 {"width":249,"height":198,"layer":[
  {"data":{"name":"band"},"mark":{"type":"rect","color":"#ccfcfc"},"encoding":{"x":{"field":"lo","type":"quantitative","scale":{"domain":[-2,1],"nice":false,"zero":false},"axis":null},"x2":{"field":"hi"}}},
  {"data":{"name":"seeb"},"mark":{"type":"line","color":"black","strokeWidth":1.2,"clip":true},"encoding":{"x":{"field":"mu","type":"quantitative","axis":{"orient":"bottom","values":[-2,-1.75,-1.5,-1.25,-1,-0.75,-0.5,-0.25,0,0.25,0.5,0.75,1],"labels":false,"tickSize":-8,"title":null}},"y":{"field":"s","type":"quantitative","scale":{"domain":[0,60],"nice":false,"zero":false},"axis":{"orient":"left","values":[0,7.5,15,22.5,30,37.5,45,52.5,60],"labels":false,"tickSize":-8,"title":null}},"detail":{"field":"seg"}}},
  {"data":{"name":"band"},"mark":{"type":"rule","color":"#7fa8ec","strokeDash":[5,3],"strokeWidth":1.2},"encoding":{"x":{"field":"lo","type":"quantitative","axis":null}}},
  {"data":{"name":"band"},"mark":{"type":"rule","color":"#1f3f9a","strokeDash":[5,3],"strokeWidth":1.2},"encoding":{"x":{"field":"hi","type":"quantitative","axis":null}}},
  {"data":{"name":"mk"},"mark":{"type":"point","filled":true,"size":45,"opacity":1},"encoding":{"x":{"field":"mu","type":"quantitative","axis":null},"y":{"field":"s","type":"quantitative","axis":{"orient":"right","values":[15,30,45,60],"ticks":false,"labelPadding":9,"title":"S (10⁻⁶ V/K)","titleAngle":270,"titleBaseline":"top","titlePadding":24}},"color":{"field":"m","type":"nominal","scale":{"domain":["0","0.2"],"range":["#9cbaf0","#1a3a8c"]},"legend":null}}},
  {"data":{"name":"rt"},"transform":[{"filter":"datum.pn==='e' && datum.k==='it'"}],"mark":{"type":"text","align":"left","baseline":"middle","fontSize":18,"fontStyle":"italic"},"encoding":{"x":{"field":"x","type":"quantitative","axis":null},"y":{"field":"y","type":"quantitative","axis":{"orient":"right","values":[0,15,30,45,60],"labels":false,"tickSize":-8,"title":null}},"text":{"field":"t"}}},
  {"data":{"name":"rt"},"transform":[{"filter":"datum.pn==='e' && datum.k==='reg'"}],"mark":{"type":"text","align":"left","baseline":"middle","fontSize":18},"encoding":{"x":{"field":"x","type":"quantitative","axis":null},"y":{"field":"y","type":"quantitative","axis":null},"text":{"field":"t"}}},
  {"data":{"name":"rt"},"transform":[{"filter":"datum.pn==='e' && datum.k==='pan'"}],"mark":{"type":"text","align":"center","baseline":"middle","fontSize":21},"encoding":{"x":{"field":"x","type":"quantitative","axis":null},"y":{"field":"y","type":"quantitative","axis":null},"text":{"field":"t"}}}
 ],"resolve":{"axis":{"x":"independent","y":"independent"}}},
 {"width":249,"height":196,"layer":[
  {"data":{"name":"band"},"mark":{"type":"rect","color":"#ccfcfc"},"encoding":{"x":{"field":"lo","type":"quantitative","scale":{"domain":[-2,1],"nice":false,"zero":false},"axis":null},"x2":{"field":"hi"}}},
  {"data":{"name":"xe"},"mark":{"type":"rule","strokeWidth":1.5},"encoding":{"y":{"field":"n","type":"quantitative","scale":{"type":"log","domain":[1e19,1e23],"nice":false},"axis":null},"color":{"field":"k","type":"nominal","scale":{"domain":["0.1","0","0.2"],"range":["#4a80e2","#b4c9f2","#1c3d8f"]},"legend":null}}},
  {"data":{"name":"hall"},"mark":{"type":"line","color":"black","strokeWidth":1.8,"clip":true},"encoding":{"x":{"field":"mu","type":"quantitative","axis":{"orient":"bottom","values":[-2,-1.75,-1.5,-1.25,-1,-0.75,-0.5,-0.25,0,0.25,0.5,0.75,1],"labels":false,"tickSize":-8,"title":null}},"y":{"field":"n","type":"quantitative","axis":{"orient":"right","values":[1e19,2e19,3e19,4e19,5e19,6e19,7e19,8e19,9e19,1e20,2e20,3e20,4e20,5e20,6e20,7e20,8e20,9e20,1e21,2e21,3e21,4e21,5e21,6e21,7e21,8e21,9e21,1e22,2e22,3e22,4e22,5e22,6e22,7e22,8e22,9e22,1e23],"labels":false,"tickSize":{"condition":{"test":"abs(log(datum.value)/LN10-round(log(datum.value)/LN10))<0.01","value":-8},"value":-4},"title":null}},"detail":{"field":"side"}}},
  {"data":{"name":"band"},"mark":{"type":"rule","color":"#7fa8ec","strokeDash":[5,3],"strokeWidth":1.2},"encoding":{"x":{"field":"lo","type":"quantitative","axis":null}}},
  {"data":{"name":"band"},"mark":{"type":"rule","color":"#1f3f9a","strokeDash":[5,3],"strokeWidth":1.2},"encoding":{"x":{"field":"hi","type":"quantitative","axis":null}}},
  {"data":{"name":"mk"},"mark":{"type":"point","filled":true,"size":45,"opacity":1},"encoding":{"x":{"field":"mu","type":"quantitative","axis":{"orient":"top","values":[-2,-1.75,-1.5,-1.25,-1,-0.75,-0.5,-0.25,0,0.25,0.5,0.75,1],"labels":false,"tickSize":-8,"title":null}},"y":{"field":"n","type":"quantitative","axis":{"orient":"right","values":[1e20,1e21,1e22,1e23],"ticks":false,"labelPadding":9,"labelExpr":"'10'+(round(log(datum.value)/LN10)==23?'²³':round(log(datum.value)/LN10)==22?'²²':round(log(datum.value)/LN10)==21?'²¹':'²⁰')","title":"1/Rₕq (cm⁻³)","titleAngle":270,"titleBaseline":"top","titlePadding":13}},"color":{"field":"m","type":"nominal","legend":null}}},
  {"data":{"name":"xe"},"mark":{"type":"text","align":"left","baseline":"middle","fontSize":13},"encoding":{"x":{"field":"xa","type":"quantitative","axis":null},"y":{"field":"ty","type":"quantitative","axis":{"orient":"left","values":[1e19,2e19,3e19,4e19,5e19,6e19,7e19,8e19,9e19,1e20,2e20,3e20,4e20,5e20,6e20,7e20,8e20,9e20,1e21,2e21,3e21,4e21,5e21,6e21,7e21,8e21,9e21,1e22,2e22,3e22,4e22,5e22,6e22,7e22,8e22,9e22,1e23],"labels":false,"tickSize":{"condition":{"test":"abs(log(datum.value)/LN10-round(log(datum.value)/LN10))<0.01","value":-8},"value":-4},"title":null}},"text":{"value":"x"},"color":{"field":"k","type":"nominal","legend":null}}},
  {"data":{"name":"xe"},"mark":{"type":"text","align":"left","baseline":"middle","fontSize":9,"dy":5},"encoding":{"x":{"field":"xb","type":"quantitative","axis":null},"y":{"field":"ty","type":"quantitative","axis":null},"text":{"value":"exp"},"color":{"field":"k","type":"nominal","legend":null}}},
  {"data":{"name":"xe"},"mark":{"type":"text","align":"left","baseline":"middle","fontSize":14},"encoding":{"x":{"field":"xc","type":"quantitative","axis":null},"y":{"field":"ty","type":"quantitative","axis":null},"text":{"field":"t"},"color":{"field":"k","type":"nominal","legend":null}}},
  {"data":{"name":"rt"},"transform":[{"filter":"datum.pn==='f'"}],"mark":{"type":"text","align":"center","baseline":"middle","fontSize":21},"encoding":{"x":{"field":"x","type":"quantitative","axis":null},"y":{"field":"y","type":"quantitative","axis":null},"text":{"field":"t"}}}
 ],"resolve":{"axis":{"x":"independent","y":"independent"}}},
 {"width":249,"height":198,"layer":[
  {"data":{"name":"band"},"mark":{"type":"rect","color":"#ccfcfc"},"encoding":{"x":{"field":"lo","type":"quantitative","scale":{"domain":[-2,1],"nice":false,"zero":false},"axis":null},"x2":{"field":"hi"}}},
  {"data":{"name":"gor"},"mark":{"type":"area","color":"#ffa500","clip":true},"encoding":{"x":{"field":"e","type":"quantitative","axis":{"orient":"bottom","values":[-2,-1.75,-1.5,-1.25,-1,-0.75,-0.5,-0.25,0,0.25,0.5,0.75,1],"labels":false,"tickSize":-8,"title":null}},"y":{"field":"u","type":"quantitative","scale":{"domain":[-100,100],"nice":false,"zero":false},"axis":{"orient":"left","values":[-100,-75,-50,-25,0,25,50,75,100],"labels":false,"tickSize":-8,"title":null}},"y2":{"field":"d"}}},
  {"data":{"name":"gel"},"mark":{"type":"line","strokeWidth":1.2,"clip":true},"encoding":{"x":{"field":"e","type":"quantitative","axis":{"orient":"bottom","values":[-2,-1.5,-1,-0.5,0,0.5,1],"ticks":false,"labelPadding":9,"labelExpr":"''+datum.value","title":"μ (eV)","titlePadding":6}},"y":{"field":"v","type":"quantitative","axis":{"orient":"right","values":[-100,-75,-50,-25,0,25,50,75,100],"labels":false,"tickSize":-8,"title":null}},"color":{"field":"el","type":"nominal","scale":{"domain":["Fe","Ti","Sn"],"range":["black","#1f9a1f","#ee1c1c"]},"legend":{"orient":"none","legendX":132,"legendY":105,"title":null,"symbolType":"M-1.6,0H1.6","symbolSize":400,"symbolStrokeWidth":2,"labelFontSize":17,"labelFont":"Liberation Sans","labelColor":"black","labelOffset":23,"rowPadding":3}},"detail":{"field":"s"}}},
  {"data":{"name":"band"},"mark":{"type":"rule","color":"#7fa8ec","strokeDash":[5,3],"strokeWidth":1.2},"encoding":{"x":{"field":"lo","type":"quantitative","axis":null}}},
  {"data":{"name":"band"},"mark":{"type":"rule","color":"#1f3f9a","strokeDash":[5,3],"strokeWidth":1.2},"encoding":{"x":{"field":"hi","type":"quantitative","axis":null}}},
  {"data":{"name":"rt"},"transform":[{"filter":"datum.pn==='g'"}],"mark":{"type":"text","align":"center","baseline":"middle","fontSize":21},"encoding":{"x":{"field":"x","type":"quantitative","axis":null},"y":{"field":"y","type":"quantitative","axis":{"orient":"right","values":[100,50,0,-50,-100],"ticks":false,"labelPadding":9,"labelExpr":"''+datum.value","title":"DOS (States/eV)","titleAngle":270,"titleBaseline":"top","titlePadding":9}},"text":{"field":"t"}}}
 ],"resolve":{"axis":{"x":"independent","y":"independent"}}}
],"spacing":0,"bounds":"flush","resolve":{"scale":{"color":"independent"}}}
],
"spacing":1
}
